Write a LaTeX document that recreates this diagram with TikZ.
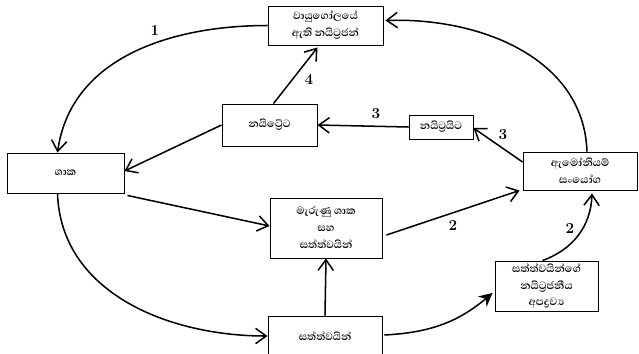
\documentclass[tikz,border=0pt]{standalone}
\usepackage{fontspec}
\newfontfamily\sinhalafont[Script=Sinhala]{Abhaya Libre}
\usetikzlibrary{arrows.meta,calc}

\begin{document}
\begin{tikzpicture}[x=0.03cm, y=-0.03cm]
\tikzstyle{box_style} = [draw=black, line width=0.8pt, inner sep=0pt, align=center, font=\sinhalafont\bfseries\fontsize{11.5}{14.5}\selectfont]
\tikzstyle{edge_style} = [black, line width=1.3pt, -{Straight Barb[length=3.2mm, width=4.6mm, line width=1.3pt]}]
\tikzstyle{fill_edge_style} = [black, line width=1.3pt, -{Stealth[length=4mm, width=4mm]}]
\tikzstyle{num_style} = [inner sep=1pt, font=\bfseries\fontsize{13}{13}\selectfont]
    \useasboundingbox (0,0) rectangle (639,353);

    \node[box_style, minimum width=3.45cm, minimum height=1.17cm] (atm) at (325.5,25.5) {වායුගෝලයේ\\ඇති නයිට්‍රජන්};
    \node[box_style, minimum width=2.85cm, minimum height=1.26cm] (nitrate) at (269.5,125) {නයිට්‍රේට};
    \node[box_style, minimum width=1.92cm, minimum height=0.72cm] (nitrite) at (441,127) {නයිට්‍රයිට};
    \node[box_style, minimum width=3.42cm, minimum height=1.14cm] (ammon) at (580,171) {ඇමෝනියම්\\සංයෝග};
    \node[box_style, minimum width=3.51cm, minimum height=1.2cm] (plant) at (65.5,173) {ශාක};
    \node[box_style, minimum width=3.36cm, minimum height=1.8cm] (dead) at (326,228) {මැරුණු ශාක\\සහ\\සත්ත්වයින්};
    \node[box_style, minimum width=3.09cm, minimum height=1.5cm] (waste) at (546.5,286) {සත්ත්වයින්ගේ\\නයිට්‍රජනීය\\අපද්‍රව්‍ය};
    \node[box_style, minimum width=3.42cm, minimum height=1.2cm] (animal) at (325,336) {සත්ත්වයින්};

    \draw[edge_style] (atm.west) to[out=180, in=82] ($(plant.north)+(-8,0)$);
    \draw[edge_style] ($(ammon.north)+(7,0)$) to[out=92, in=2] ($(atm.east)+(2,-5)$);
    \draw[edge_style] ($(nitrate.north)+(4,0)$) -- ($(atm.south)+(-8,2)$);
    \draw[edge_style] (nitrate.west) -- ($(plant.east)+(0,-2)$);
    \draw[edge_style] (nitrite.west) -- (nitrate.east);
    \draw[edge_style] ($(ammon.west)+(0,-9)$) -- ($(nitrite.east)+(0,1)$);
    \draw[edge_style] ($(plant.south east)+(3,2)$) -- ($(dead.west)+(0,-2)$);
    \draw[edge_style] ($(dead.east)+(4,7)$) -- ($(ammon.south west)+(-3,0)$);
    \draw[edge_style] ($(plant.south)+(-8,0)$) to[out=-88, in=180] (animal.west);
    \draw[edge_style] (animal.north) -- (dead.south);
    \draw[fill_edge_style] ($(animal.east)+(2,-1)$) to[out=3, in=220] ($(waste.west)+(-2,7)$);
    \draw[edge_style] ($(waste.north)+(-4,0)$) to[out=20, in=-92] ($(ammon.south)+(12,3)$);

    \node[num_style] (n1) at (155,30) {1};
    \node[num_style] (n4) at (309,79) {4};
    \node[num_style] (n3a) at (376,114) {3};
    \node[num_style] (n3b) at (503,135) {3};
    \node[num_style] (n2a) at (453,225) {2};
    \node[num_style] (n2b) at (570,228) {2};
\end{tikzpicture}
\end{document}
